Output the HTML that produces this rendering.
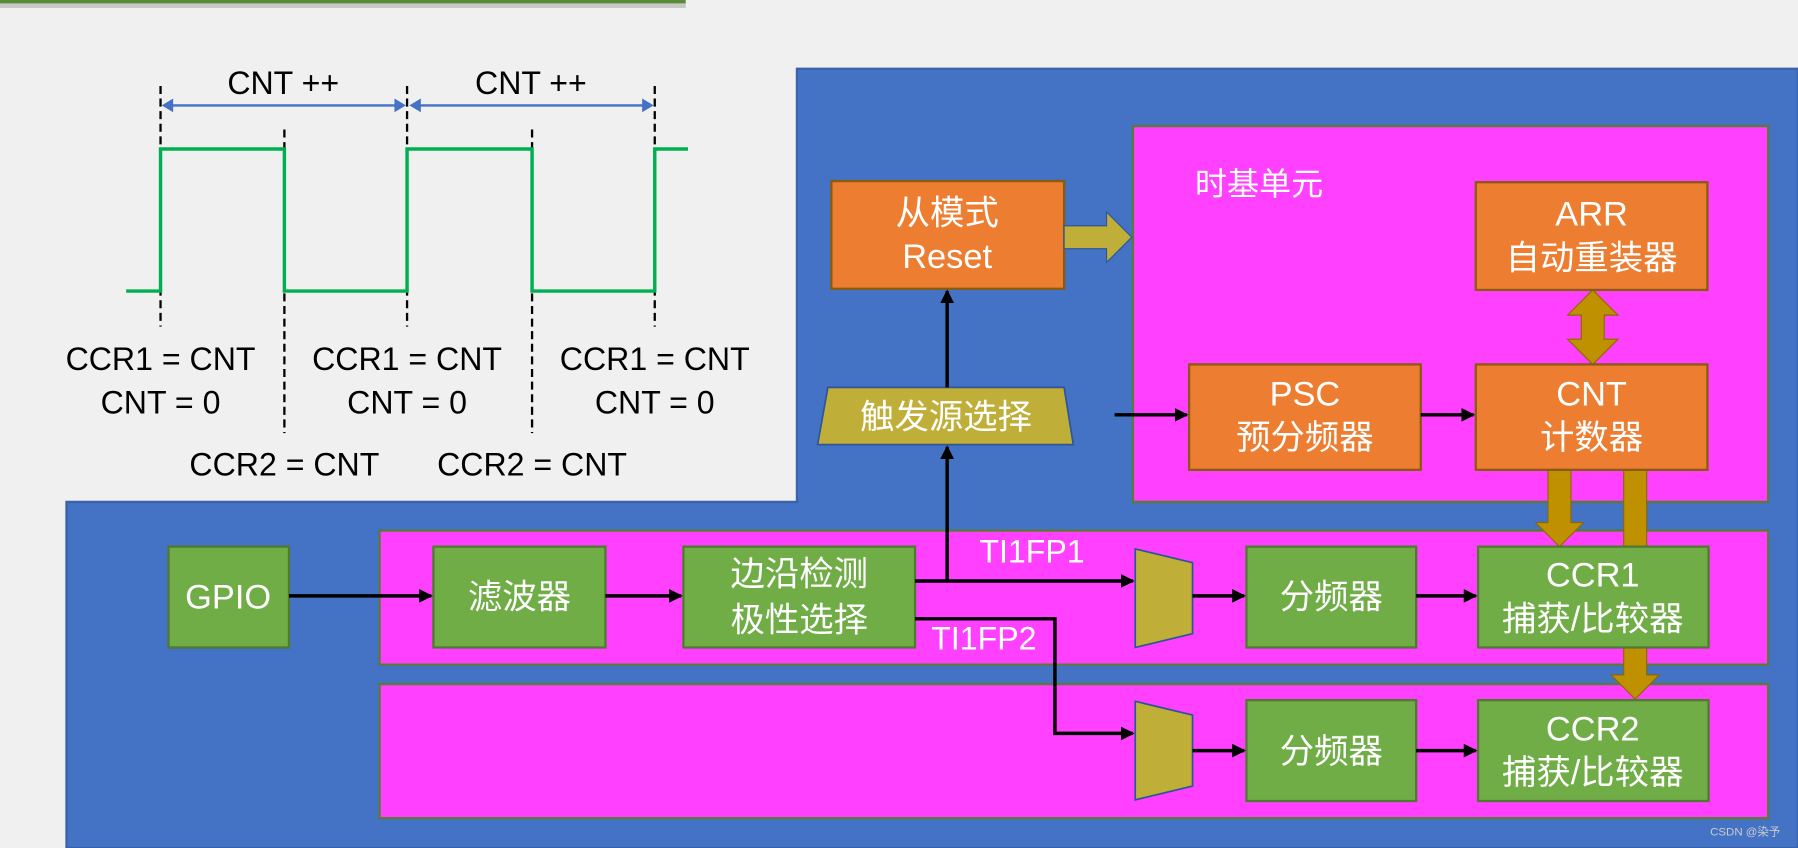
<!DOCTYPE html>
<html><head><meta charset="utf-8"><style>
html,body{margin:0;padding:0;background:#f0f0f0;}
svg{display:block;}
text{font-family:"Liberation Sans","Noto Sans CJK SC",sans-serif;}
</style></head><body>
<svg width="1798" height="848" viewBox="0 0 1568 740" preserveAspectRatio="none" xmlns="http://www.w3.org/2000/svg">
<defs>
<marker id="ab" markerWidth="4" markerHeight="4" refX="3.5" refY="2" orient="auto" markerUnits="strokeWidth"><path d="M0,0 L4,2 L0,4 z" fill="#000"/></marker>
</defs>
<rect width="1568" height="740" fill="#f0f0f0"/>
<rect x="0" y="0" width="598" height="3" fill="#5a8a3a"/>
<rect x="0" y="3" width="598" height="4" fill="#c8c8c8"/>
<path d="M695,60 H1568 V740 H58 V438 H695 Z" fill="#4472c4" stroke="#3a62aa" stroke-width="2"/>
<rect x="988" y="110" width="554" height="328" fill="#ff40ff" stroke="#5b7a3a" stroke-width="2"/>
<rect x="331" y="463" width="1211" height="117" fill="#ff40ff" stroke="#5b7a3a" stroke-width="2"/>
<rect x="331" y="597" width="1211" height="117" fill="#ff40ff" stroke="#5b7a3a" stroke-width="2"/>
<text x="1098" y="170" fill="#fff" font-size="28" text-anchor="middle" font-family="Noto Sans CJK SC, sans-serif">时基单元</text>

<g stroke="#000" stroke-width="2" stroke-dasharray="7,4">
<line x1="140" y1="75" x2="140" y2="285"/><line x1="355" y1="75" x2="355" y2="285"/><line x1="571" y1="75" x2="571" y2="285"/>
<line x1="248" y1="113" x2="248" y2="378"/><line x1="464" y1="113" x2="464" y2="378"/>
</g>
<polyline points="110,254 140,254 140,130 248,130 248,254 355,254 355,130 464,130 464,254 571,254 571,130 600,130" fill="none" stroke="#00b050" stroke-width="3"/>
<line x1="145" y1="92" x2="350" y2="92" stroke="#4472c4" stroke-width="2"/>
<line x1="360" y1="92" x2="566" y2="92" stroke="#4472c4" stroke-width="2"/>
<path d="M141,92 L151,86 L151,98 Z M354,92 L344,86 L344,98 Z M357,92 L367,86 L367,98 Z M570,92 L560,86 L560,98 Z" fill="#4472c4"/>
<g font-size="28" fill="#000" text-anchor="middle">
<text x="247" y="82">CNT ++</text><text x="463" y="82">CNT ++</text>
<text x="140" y="323">CCR1 = CNT</text><text x="140" y="361">CNT = 0</text>
<text x="355" y="323">CCR1 = CNT</text><text x="355" y="361">CNT = 0</text>
<text x="571" y="323">CCR1 = CNT</text><text x="571" y="361">CNT = 0</text>
<text x="248" y="415">CCR2 = CNT</text><text x="464" y="415">CCR2 = CNT</text>
</g>

<g fill="#bf9000" stroke="#8a6a00" stroke-width="1">
<path d="M1389,253 L1411,275 H1399 V296 H1411 L1389,318 L1367,296 H1379 V275 H1367 Z"/>
<path d="M1350,410 H1370 V456 H1381 L1360,477 L1339,456 H1350 Z"/>
<path d="M1416,410 H1436 V589 H1447 L1426,610 L1405,589 H1416 Z"/>
</g>
<g fill="#ed7d31" stroke="#8a5a10" stroke-width="2">
<rect x="725" y="158" width="203" height="94"/>
<rect x="1287" y="159" width="202" height="94"/>
<rect x="1037" y="318" width="202" height="92"/>
<rect x="1287" y="318" width="202" height="92"/>
</g>
<g fill="#70ad47" stroke="#507a30" stroke-width="2">
<rect x="147" y="477" width="105" height="88"/>
<rect x="378" y="477" width="150" height="88"/>
<rect x="596" y="477" width="202" height="88"/>
<rect x="1087" y="477" width="148" height="88"/>
<rect x="1289" y="477" width="201" height="88"/>
<rect x="1087" y="611" width="148" height="88"/>
<rect x="1289" y="611" width="201" height="88"/>
</g>
<g fill="#bfae37" stroke="#2f5597" stroke-width="1.5">
<path d="M990,479 L1040,491 L1040,553 L990,565 Z"/>
<path d="M990,612 L1040,624 L1040,686 L990,698 Z"/>
<path d="M722,338 L928,338 L936,388 L713,388 Z"/>
</g>
<path d="M928,197 H965 V185 L987,207 L965,229 V217 H928 Z" fill="#bfae37" stroke="#2f5597" stroke-width="1"/>
<g stroke="#000" stroke-width="3" fill="none">
<line x1="252" y1="520" x2="376" y2="520" marker-end="url(#ab)"/>
<line x1="528" y1="520" x2="594" y2="520" marker-end="url(#ab)"/>
<line x1="798" y1="507" x2="988" y2="507" marker-end="url(#ab)"/>
<line x1="826" y1="507" x2="826" y2="390" marker-end="url(#ab)"/>
<line x1="826" y1="338" x2="826" y2="254" marker-end="url(#ab)"/>
<polyline points="798,540 920,540 920,640 988,640" marker-end="url(#ab)"/>
<line x1="1040" y1="520" x2="1085" y2="520" marker-end="url(#ab)"/>
<line x1="1235" y1="520" x2="1287" y2="520" marker-end="url(#ab)"/>
<line x1="1040" y1="655" x2="1085" y2="655" marker-end="url(#ab)"/>
<line x1="1235" y1="655" x2="1287" y2="655" marker-end="url(#ab)"/>
<line x1="972" y1="362" x2="1035" y2="362" marker-end="url(#ab)"/>
<line x1="1239" y1="362" x2="1285" y2="362" marker-end="url(#ab)"/>
</g>
<g fill="#fff" font-size="30" text-anchor="middle">
<text x="826" y="196">从模式</text><text x="826" y="234">Reset</text>
<text x="1388" y="197">ARR</text><text x="1388" y="235">自动重装器</text>
<text x="1138" y="354">PSC</text><text x="1138" y="392">预分频器</text>
<text x="1388" y="354">CNT</text><text x="1388" y="392">计数器</text>
<text x="825" y="374">触发源选择</text>
<text x="199" y="531">GPIO</text>
<text x="453" y="531">滤波器</text>
<text x="697" y="511">边沿检测</text><text x="697" y="551">极性选择</text>
<text x="1161" y="531">分频器</text>
<text x="1389" y="512">CCR1</text><text x="1389" y="550">捕获/比较器</text>
<text x="1161" y="666">分频器</text>
<text x="1389" y="646">CCR2</text><text x="1389" y="684">捕获/比较器</text>
<text x="900" y="491" font-size="28">TI1FP1</text>
<text x="858" y="567" font-size="28">TI1FP2</text>
</g>
<text x="1522" y="729" fill="#ccc" font-size="10" text-anchor="middle">CSDN @染予</text>
</svg>
</body></html>
